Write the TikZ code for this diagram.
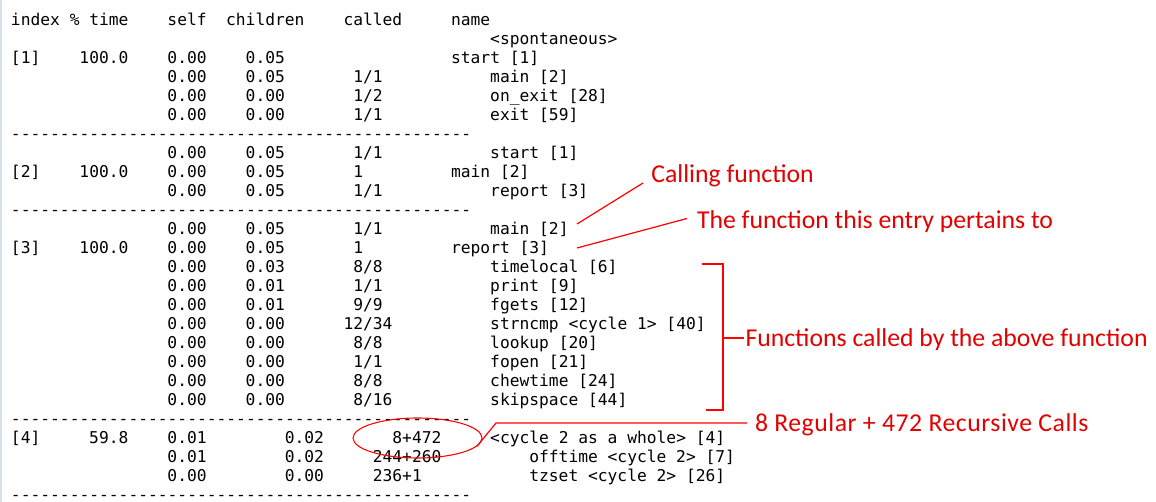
\documentclass[tikz,border=0pt]{standalone}
\usepackage{fontspec}
\usetikzlibrary{shapes.geometric}
\setmonofont{DejaVu Sans Mono}
\newfontfamily\annfont{Carlito}
\definecolor{anntext}{RGB}{226,0,0}
\definecolor{annline}{RGB}{255,0,0}
\definecolor{edgeblue}{RGB}{214,224,238}
\tikzset{
  mono/.style={font=\ttfamily\fontsize{12.2pt}{14pt}\selectfont, anchor=base west, inner sep=0pt, outer sep=0pt, text=black},
  ann/.style={font=\annfont\fontsize{19.3pt}{22pt}\selectfont, anchor=base west, inner sep=0pt, outer sep=0pt, text=anntext},
  annstroke/.style={draw=annline, line width=0.9pt},
  bracketstroke/.style={draw=annline, line width=1.5pt}
}
\newcommand\cell[3]{\node[mono] (r#1c#2) at ({11+9.78*#2},{6.5+19*#1}) {#3};}
\newcommand\dashrow[1]{\cell{#1}{0}{-----------------------------------------------}}
\begin{document}
\begin{tikzpicture}[x=0.75pt,y=-0.75pt]
\fill[white] (0,0) rectangle (1156,502);
\useasboundingbox (0,0) rectangle (1156,502);
\fill[edgeblue] (0,0) rectangle (1.5,502);
% header
\cell{1}{0}{index \% time}
\cell{1}{16}{self}
\cell{1}{22}{children}
\cell{1}{34}{called}
\cell{1}{45}{name}
\cell{2}{49}{<spontaneous>}
% entry 1
\cell{3}{0}{[1]}
\cell{3}{7}{100.0}
\cell{3}{16}{0.00}
\cell{3}{24}{0.05}
\cell{3}{45}{start [1]}
\cell{4}{16}{0.00}
\cell{4}{24}{0.05}
\cell{4}{35}{1/1}
\cell{4}{49}{main [2]}
\cell{5}{16}{0.00}
\cell{5}{24}{0.00}
\cell{5}{35}{1/2}
\cell{5}{49}{on\_exit [28]}
\cell{6}{16}{0.00}
\cell{6}{24}{0.00}
\cell{6}{35}{1/1}
\cell{6}{49}{exit [59]}
\dashrow{7}
% entry 2
\cell{8}{16}{0.00}
\cell{8}{24}{0.05}
\cell{8}{35}{1/1}
\cell{8}{49}{start [1]}
\cell{9}{0}{[2]}
\cell{9}{7}{100.0}
\cell{9}{16}{0.00}
\cell{9}{24}{0.05}
\cell{9}{35}{1}
\cell{9}{45}{main [2]}
\cell{10}{16}{0.00}
\cell{10}{24}{0.05}
\cell{10}{35}{1/1}
\cell{10}{49}{report [3]}
\dashrow{11}
% entry 3
\cell{12}{16}{0.00}
\cell{12}{24}{0.05}
\cell{12}{35}{1/1}
\cell{12}{49}{main [2]}
\cell{13}{0}{[3]}
\cell{13}{7}{100.0}
\cell{13}{16}{0.00}
\cell{13}{24}{0.05}
\cell{13}{35}{1}
\cell{13}{45}{report [3]}
\cell{14}{16}{0.00}
\cell{14}{24}{0.03}
\cell{14}{35}{8/8}
\cell{14}{49}{timelocal [6]}
\cell{15}{16}{0.00}
\cell{15}{24}{0.01}
\cell{15}{35}{1/1}
\cell{15}{49}{print [9]}
\cell{16}{16}{0.00}
\cell{16}{24}{0.01}
\cell{16}{35}{9/9}
\cell{16}{49}{fgets [12]}
\cell{17}{16}{0.00}
\cell{17}{24}{0.00}
\cell{17}{34}{12/34}
\cell{17}{49}{strncmp <cycle 1> [40]}
\cell{18}{16}{0.00}
\cell{18}{24}{0.00}
\cell{18}{35}{8/8}
\cell{18}{49}{lookup [20]}
\cell{19}{16}{0.00}
\cell{19}{24}{0.00}
\cell{19}{35}{1/1}
\cell{19}{49}{fopen [21]}
\cell{20}{16}{0.00}
\cell{20}{24}{0.00}
\cell{20}{35}{8/8}
\cell{20}{49}{chewtime [24]}
\cell{21}{16}{0.00}
\cell{21}{24}{0.00}
\cell{21}{35}{8/16}
\cell{21}{49}{skipspace [44]}
\dashrow{22}
% entry 4
\cell{23}{0}{[4]}
\cell{23}{8}{59.8}
\cell{23}{16}{0.01}
\cell{23}{28}{0.02}
\cell{23}{39}{8+472}
\cell{23}{49}{<cycle 2 as a whole> [4]}
\cell{24}{16}{0.01}
\cell{24}{28}{0.02}
\cell{24}{37}{244+260}
\cell{24}{53}{offtime <cycle 2> [7]}
\cell{25}{16}{0.00}
\cell{25}{28}{0.00}
\cell{25}{37}{236+1}
\cell{25}{53}{tzset <cycle 2> [26]}
\dashrow{26}
% annotations
\node[ann] (calling) at (651.4,182.7) {Calling function};
\node[ann] (pertains) at (697,228.3) {The function this entry pertains to};
\node[ann] (calledby) at (745.5,346.7) {Functions called by the above function};
\node[ann] (recursive) at (755,431.7) {\addfontfeature{LetterSpace=2}8 Regular + 472 Recursive Calls};
\coordinate (c1a) at (577,224);
\coordinate (c1b) at (643,183);
\coordinate (c2a) at (577,248);
\coordinate (c2b) at (687,218.5);
\draw[annstroke] (c1a) -- (c1b);
\draw[annstroke] (c2a) -- (c2b);
\coordinate (bt1) at (701.5,264.3);
\coordinate (bt2) at (722.5,264.3);
\coordinate (bb2) at (722.5,410);
\coordinate (bb1) at (706,410);
\coordinate (bm1) at (722.5,337.7);
\coordinate (bm2) at (743.5,337.7);
\draw[bracketstroke] (bt1) -- (bt2) -- (bb2) -- (bb1);
\draw[bracketstroke] (bm1) -- (bm2);
\node[draw=annline, line width=0.8pt, ellipse, minimum width=129*0.75pt, minimum height=40*0.75pt, inner sep=0pt] (ring) at (417.5,438) {};
\coordinate (rk) at (496,423);
\coordinate (rend) at (747,423);
\draw[annstroke] (ring.-8) -- (rk) -- (rend);
\end{tikzpicture}
\end{document}
